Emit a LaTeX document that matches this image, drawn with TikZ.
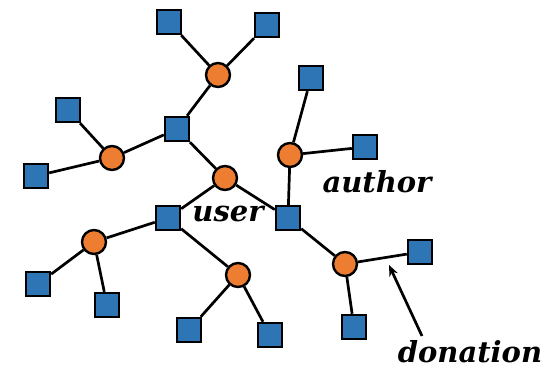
\documentclass[tikz,border=0pt]{standalone}
\usepackage{fontspec}
\newfontfamily\lblfont{DejaVu Serif}
\usetikzlibrary{arrows.meta}
\definecolor{sqblue}{HTML}{2E75B6}
\definecolor{cirorange}{HTML}{ED7D31}
\begin{document}
\begin{tikzpicture}[x=1pt,y=-1pt,
  sq/.style={draw=black,line width=2.4pt,fill=sqblue,minimum size=24pt,inner sep=0pt},
  ci/.style={circle,draw=black,line width=2.4pt,fill=cirorange,minimum size=24pt,inner sep=0pt},
  edge/.style={line width=2.7pt},
  lbl/.style={font=\lblfont\bfseries\itshape\fontsize{29}{32}\selectfont,inner sep=0pt}]
\useasboundingbox (0,0) rectangle (548,371);
% nodes
\node[sq] (s1) at (169,22) {};
\node[sq] (s2) at (267,25) {};
\node[ci] (c1) at (218,75) {};
\node[sq] (s3) at (177,129) {};
\node[sq] (s4) at (68,110) {};
\node[ci] (c2) at (112,158) {};
\node[sq] (s5) at (36,176) {};
\node[ci] (c3) at (225,178) {};
\node[sq] (s6) at (168,218) {};
\node[sq] (s7) at (288,218) {};
\node[ci] (c4) at (290,155) {};
\node[sq] (s8) at (311,78) {};
\node[sq] (s9) at (365,147) {};
\node[ci] (c5) at (345,264) {};
\node[sq] (s10) at (420,252) {};
\node[sq] (s11) at (354,327) {};
\node[ci] (c6) at (94,242) {};
\node[sq] (s12) at (38,284) {};
\node[sq] (s13) at (107,305) {};
\node[ci] (c7) at (238,275) {};
\node[sq] (s14) at (189,330) {};
\node[sq] (s15) at (270,335) {};
% edges
\foreach \a/\b in {s1/c1,s2/c1,c1/s3,s3/c2,s3/c3,c2/s4,c2/s5,c3/s6,c3/s7,s6/c6,s6/c7,c6/s12,c6/s13,c7/s14,c7/s15,s7/c4,c4/s8,c4/s9,s7/c5,c5/s10,c5/s11}
  \draw[edge] (\a) -- (\b);
% labels
\node[lbl] (user) at (228,214) {user};
\node[lbl] (author) at (377,182) {author};
\node[lbl] (donation) at (470,352) {donation};
\coordinate (tail) at (422,336);
\coordinate (head) at (389,265);
\draw[edge,-{Stealth[length=11pt,width=9pt]}] (tail) -- (head);
\end{tikzpicture}
\end{document}
